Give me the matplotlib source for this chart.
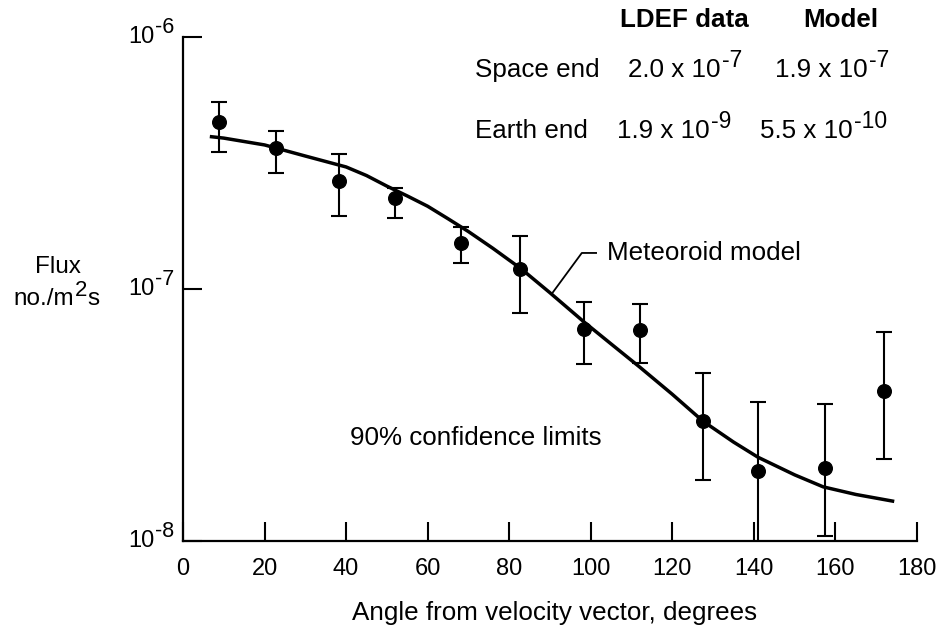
import numpy as np
import matplotlib
matplotlib.use("Agg")
import matplotlib.pyplot as plt

plt.rcParams['font.family'] = ['Liberation Sans', 'DejaVu Sans']

angle = [8.8, 22.8, 38.3, 52.0, 68.2, 82.6, 98.3, 112.0, 127.5, 141.0, 157.4, 171.9]
flux = [4.6e-7, 3.63e-7, 2.68e-7, 2.3e-7, 1.52e-7, 1.2e-7, 6.93e-8, 6.87e-8, 2.99e-8, 1.9e-8, 1.95e-8, 3.94e-8]
flux_hi = [5.52e-7, 4.24e-7, 3.44e-7, 2.51e-7, 1.76e-7, 1.62e-7, 8.87e-8, 8.7e-8, 4.64e-8, 3.56e-8, 3.5e-8, 6.75e-8]
flux_lo = [3.5e-7, 2.88e-7, 1.95e-7, 1.91e-7, 1.27e-7, 8.0e-8, 5.04e-8, 5.08e-8, 1.75e-8, 8.0e-9, 1.05e-8, 2.11e-8]

# meteoroid model curve
model_angle = [7, 10, 20, 30, 40, 45, 50, 55, 60, 65, 70, 76, 83, 90, 98.3, 105, 112, 120,
               127.5, 135, 141, 150, 157, 165, 174]
model_flux = [4.02e-7, 3.97e-7, 3.73e-7, 3.37e-7, 3.05e-7, 2.82e-7, 2.56e-7, 2.34e-7, 2.13e-7, 1.9e-7,
              1.69e-7, 1.45e-7, 1.2e-7, 9.66e-8, 7.41e-8, 6.05e-8, 4.9e-8, 3.82e-8,
              2.99e-8, 2.47e-8, 2.15e-8, 1.83e-8, 1.64e-8, 1.53e-8, 1.44e-8]

xticks = [0, 20, 40, 60, 80, 100, 120, 140, 160, 180]
yticks = [1e-8, 1e-7, 1e-6]
ytick_exp = ['-8', '-7', '-6']

# table: row labels, LDEF (base, exponent), model (base, exponent)
rows = ['Space end', 'Earth end']
ldef_vals = [('2.0 x 10', '-7'), ('1.9 x 10', '-9')]
model_vals = [('1.9 x 10', '-7'), ('5.5 x 10', '-10')]

FS = 18.7
W, H = 946, 634
fig = plt.figure(figsize=(W / 100, H / 100), dpi=100)
ax = fig.add_axes([183 / W, 1 - 541 / H, 734 / W, 504 / H])

ax.plot(model_angle, model_flux, color='black', lw=2.5, solid_joinstyle='round')
yerr = [np.array(flux) - np.array(flux_lo), np.array(flux_hi) - np.array(flux)]
ax.errorbar(angle, flux, yerr=yerr, fmt='o', color='black', ms=9.8,
            elinewidth=1.5, capsize=5.5, capthick=1.5)

ax.set_yscale('log')
ax.set_xlim(0, 180)
ax.set_ylim(1e-8, 1e-6)
ax.set_xticks(xticks)
ax.set_xticklabels([str(t) for t in xticks])
ax.set_yticks(yticks)
ax.yaxis.set_minor_locator(matplotlib.ticker.NullLocator())
ax.tick_params(direction='in', length=14, width=1.5, labelsize=17)
ax.tick_params(axis='x', pad=12)
ax.tick_params(axis='y', labelleft=False)
for s in ['top', 'right']:
    ax.spines[s].set_visible(False)
for s in ['left', 'bottom']:
    ax.spines[s].set_linewidth(1.6)

# y tick labels drawn as 10 with a raised exponent
for t, e in zip(yticks, ytick_exp):
    sup = ax.annotate(e, xy=(0, t), xycoords=ax.get_yaxis_transform(), xytext=(-6.5, 7),
                      textcoords='offset points', ha='right', va='center', fontsize=15.5,
                      annotation_clip=False)
    ax.annotate('10', xy=(0, 0.5), xycoords=sup, xytext=(-0.5, -7), textcoords='offset points',
                ha='right', va='center', fontsize=17, annotation_clip=False)

def sup_after(base, txt, size=16.5, dy=11):
    return ax.annotate(txt, xy=(1, 0), xycoords=base, xytext=(0.8, dy), textcoords='offset points',
                       ha='left', va='baseline', fontsize=size, annotation_clip=False)

# leader line for the model label
ax.plot([90.7, 97.8, 101.3], [9.7e-8, 1.39e-7, 1.39e-7], color='black', lw=1.3)
ax.text(104, 1.39e-7, 'Meteoroid model', fontsize=FS, va='center', ha='left')

def px(x, y):
    return x / W, 1 - y / H

fig.text(*px(350, 438), '90% confidence limits', fontsize=FS, va='center', ha='left')
fig.text(*px(555, 613), 'Angle from velocity vector, degrees', fontsize=FS, va='center', ha='center')
fig.text(*px(58, 267), 'Flux', fontsize=17.5, va='center', ha='center')
unit = fig.text(*px(13, 305), 'no./m', fontsize=17.5, va='baseline', ha='left')
two = sup_after(unit, '2', size=16, dy=10)
ax.annotate('s', xy=(1, 0), xycoords=two, xytext=(0.5, -2.9), textcoords='offset points',
            ha='left', va='baseline', fontsize=17.5, annotation_clip=False)

# table of space end / earth end values
fig.text(*px(620, 27), 'LDEF data', fontsize=FS, fontweight='bold', va='baseline')
fig.text(*px(803, 27), 'Model', fontsize=FS, fontweight='bold', va='baseline')
row_y = [77, 138]
ldef_x = [628, 617]
model_x = [775, 760]
for i, name in enumerate(rows):
    fig.text(*px(475, row_y[i]), name, fontsize=FS, va='baseline')
    b = fig.text(*px(ldef_x[i], row_y[i]), ldef_vals[i][0], fontsize=FS, va='baseline')
    sup_after(b, ldef_vals[i][1])
    b = fig.text(*px(model_x[i], row_y[i]), model_vals[i][0], fontsize=FS, va='baseline')
    sup_after(b, model_vals[i][1])

fig.savefig('out.png', dpi=100)
